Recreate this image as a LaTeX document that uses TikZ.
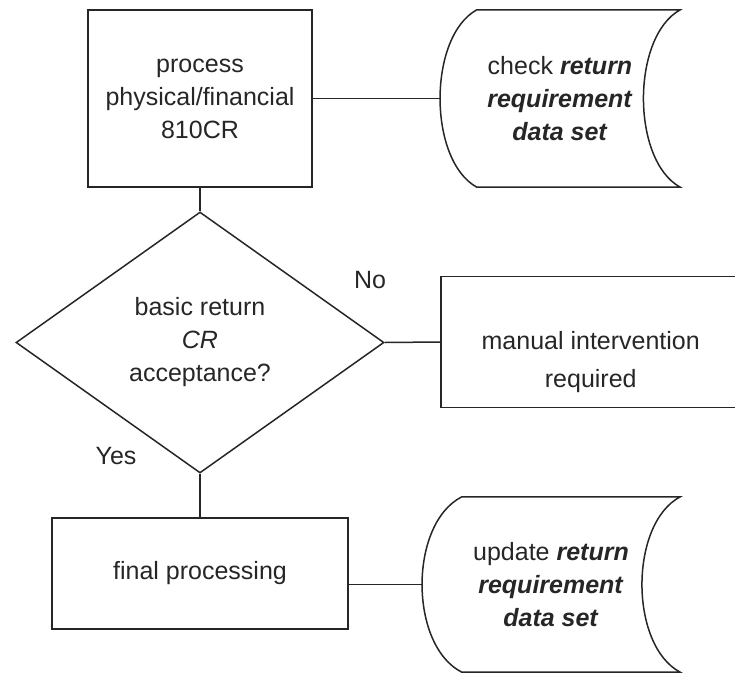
\documentclass[tikz,border=0pt]{standalone}
\usepackage{fontspec}
\setmainfont{Liberation Sans}
\usetikzlibrary{shapes.geometric,calc}
\begin{document}
\begin{tikzpicture}[x=1pt,y=-1pt,
  every node/.style={font=\fontsize{25}{33}\selectfont, align=center, inner sep=0pt, text=black!85},
  ln/.style={line width=1.5pt, draw=black!85},
  box/.style={ln, draw, rectangle},
  dec/.style={ln, draw, diamond, aspect=1.41},
  lbl/.style={font=\fontsize{25}{30}\selectfont}
]
\useasboundingbox (0,0) rectangle (735,677);
\clip (0,0) rectangle (735,677);
% nodes
\node[box, minimum width=224pt, minimum height=177pt] (proc) at (200,98.5) {process\\physical/financial\\810CR};
\node[dec, minimum width=368pt, minimum height=261pt] (dec) at (200,342.5) {basic return\\\textit{CR}\\acceptance?};
\node[box, minimum width=296pt, minimum height=111pt] (final) at (200,573.5) {final processing};
\node[box, anchor=west, minimum width=300pt, minimum height=131pt, font=\fontsize{25}{38}\selectfont] (manual) at (440,342) {\rule{0pt}{59pt}manual intervention\\required};
\node[minimum width=240pt, minimum height=177pt] (store1) at (560,98.5) {check \textbf{\textit{return}}\\\textbf{\textit{requirement}}\\\textbf{\textit{data set}}};
\node[minimum width=258pt, minimum height=175pt] (store2) at (551,584.5) {update \textbf{\textit{return}}\\\textbf{\textit{requirement}}\\\textbf{\textit{data set}}};
\node[lbl] (no) at (370,280) {No};
\node[lbl] (yes) at (116,456) {Yes};
% stored data outlines
\draw[ln] ($(store1.north west)+(37,0)$) -- (store1.north east)
  .. controls ($(store1.north east)+(-49,27)$) and ($(store1.south east)+(-49,-27)$) .. (store1.south east)
  -- ($(store1.south west)+(37,0)$)
  .. controls ($(store1.south west)+(-12,-27)$) and ($(store1.north west)+(-12,27)$) .. ($(store1.north west)+(37,0)$) -- cycle;
\draw[ln] ($(store2.north west)+(40,0)$) -- (store2.north east)
  .. controls ($(store2.north east)+(-51,27)$) and ($(store2.south east)+(-51,-27)$) .. (store2.south east)
  -- ($(store2.south west)+(40,0)$)
  .. controls ($(store2.south west)+(-13,-27)$) and ($(store2.north west)+(-13,27)$) .. ($(store2.north west)+(40,0)$) -- cycle;
% connectors
\draw[ln] (proc.south) -- (dec.north);
\draw[ln] (dec.south) -- (final.north);
\draw[ln] (proc.east) -- (store1.west);
\draw[ln] (dec.east) -- (manual.west);
\draw[ln] (store2.west) -- (store2.west -| final.east);
\end{tikzpicture}
\end{document}
